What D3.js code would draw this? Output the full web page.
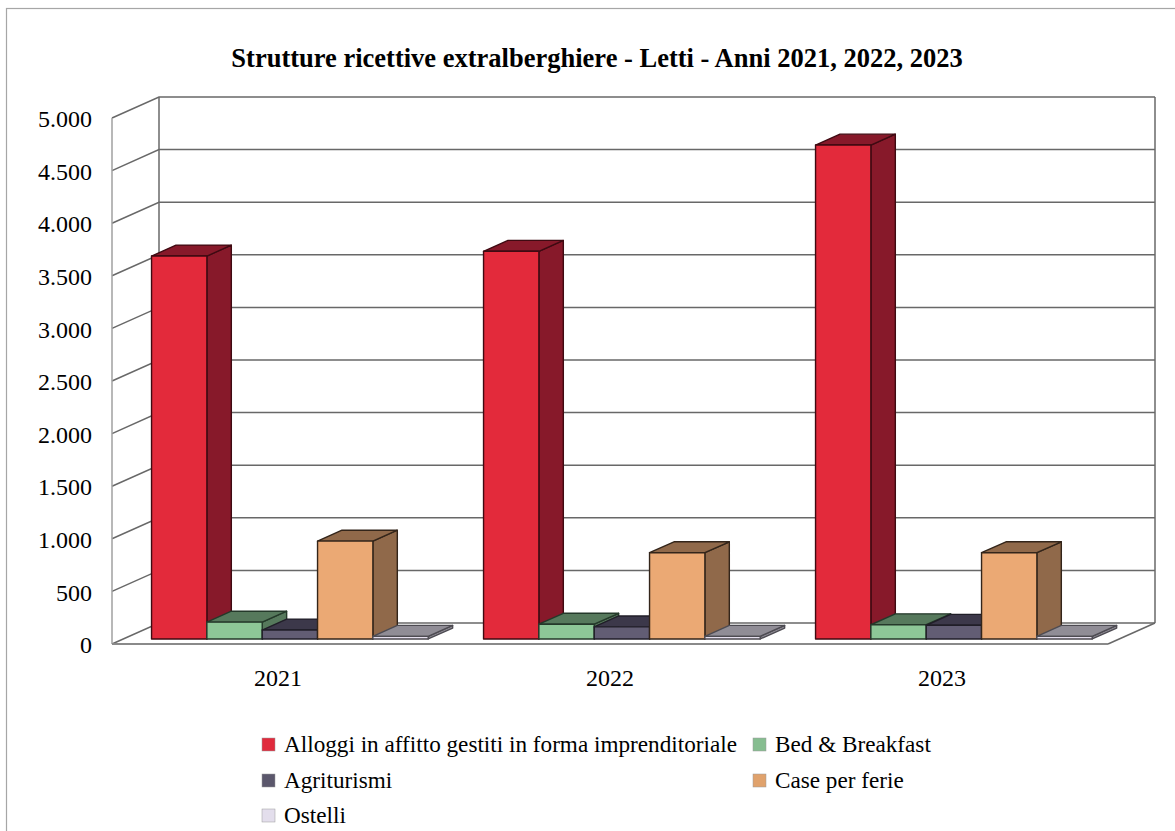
<!DOCTYPE html>
<html>
<head>
<meta charset="utf-8">
<script src="https://cdn.jsdelivr.net/npm/d3@7"></script>
<style>
body { margin: 0; background: #fff; }
text { font-family: "Liberation Serif", serif; fill: #000; }
</style>
</head>
<body>
<svg width="1175" height="831"></svg>
<script>
var years = ["2021", "2022", "2023"];
var series = ["Alloggi in affitto gestiti in forma imprenditoriale", "Bed & Breakfast", "Agriturismi", "Case per ferie", "Ostelli"];
var alloggi = [3640, 3685, 4695];
var bedBreakfast = [160, 140, 135];
var agriturismi = [85, 115, 130];
var casePerFerie = [930, 820, 820];
var ostelli = [25, 25, 25];
var values = [alloggi, bedBreakfast, agriturismi, casePerFerie, ostelli];
var yTicks = [0, 500, 1000, 1500, 2000, 2500, 3000, 3500, 4000, 4500, 5000];

var frontColors = ["#e32a3b", "#8dc797", "#625d74", "#eba974", "#e5dfee"];
var topColors = ["#87192a", "#56795c", "#3c384a", "#90694a", "#908d96"];
var sideColors = ["#87192a", "#56795c", "#3c384a", "#90694a", "#908d96"];
var edgeColors = ["#3f0a12", "#24392a", "#201e28", "#33251a", "#4d4b52"];
var legendColors = ["#e02a3c", "#86bd90", "#5b576c", "#e0a26c", "#e3deec"];

var svg = d3.select("svg");
var depthX = 47, depthY = 21;
var barFront = 0.24, barBack = 0.76;
var wallL = 112, wallR = 1108;

var x = d3.scaleBand().domain(years).range([wallL + 0.6, wallR + 0.6]);
var x1 = d3.scaleBand().domain(series).range([0, x.bandwidth()]).paddingInner(0).paddingOuter(0.5);
var y = d3.scaleLinear().domain([0, 5000]).range([644, 118]);
var locale = d3.formatLocale({decimal: ",", thousands: ".", grouping: [3], currency: ["", ""]});

// plane coordinates -> picture, d = depth from 0 (front) to 1 (back wall)
function pt(px, v, d) { return [px + d * depthX, y(v) - d * depthY]; }
function poly(points) { return d3.line()(points) + "Z"; }

svg.append("rect").attr("x", 6.5).attr("y", 8.5).attr("width", 1180).attr("height", 840)
    .attr("fill", "#fff").attr("stroke", "#a6a6a6").attr("stroke-width", 1.2);

svg.append("text").attr("x", 597).attr("y", 67).attr("text-anchor", "middle")
    .style("font-size", "26.5px").style("font-weight", "bold")
    .text("Strutture ricettive extralberghiere - Letti - Anni 2021, 2022, 2023");

// walls and grid
var grid = svg.append("g").attr("fill", "none").attr("stroke", "#686868").attr("stroke-width", 1.5);
yTicks.forEach(function(t) {
    grid.append("path").attr("d", d3.line()([pt(wallL, t, 0), pt(wallL, t, 1), pt(wallR, t, 1)]));
});
grid.append("path").attr("stroke", "#a0a0a0").attr("d", d3.line()([pt(wallL, 0, 0), pt(wallL, 5000, 0)]));
grid.append("path").attr("d", d3.line()([pt(wallL, 0, 1), pt(wallL, 5000, 1)]));
grid.append("path").attr("d", d3.line()([pt(wallR, 0, 1), pt(wallR, 5000, 1)]));
grid.append("path").attr("d", d3.line()([pt(wallR, 0, 0), pt(wallR, 0, 1)]));
grid.append("path").attr("stroke", "#8a8a8a").attr("stroke-width", 2).attr("d", d3.line()([pt(wallL, 0, 0), pt(wallR, 0, 0)]));

// bars, left to right so the next bar hides the side of the previous one
years.forEach(function(yr, i) {
    series.forEach(function(s, j) {
        var v = values[j][i];
        var x0 = x(yr) + x1(s), x2 = x0 + x1.bandwidth();
        var g = svg.append("g").attr("stroke", edgeColors[j]).attr("stroke-width", 1.4).attr("stroke-linejoin", "round");
        g.append("path").attr("fill", sideColors[j])
            .attr("d", poly([pt(x2, 0, barFront), pt(x2, 0, barBack), pt(x2, v, barBack), pt(x2, v, barFront)]));
        g.append("path").attr("fill", topColors[j])
            .attr("d", poly([pt(x0, v, barFront), pt(x2, v, barFront), pt(x2, v, barBack), pt(x0, v, barBack)]));
        g.append("path").attr("fill", frontColors[j])
            .attr("d", poly([pt(x0, 0, barFront), pt(x2, 0, barFront), pt(x2, v, barFront), pt(x0, v, barFront)]));
    });
});

// axes
var yAxis = d3.axisLeft(y).tickValues(yTicks).tickSize(0).tickPadding(20).tickFormat(locale.format(",d"));
var gy = svg.append("g").attr("transform", "translate(" + wallL + ",1)").call(yAxis);
gy.select(".domain").remove();
gy.selectAll("text").style("font-size", "24px").style("font-family", "'Liberation Serif', serif");

var xAxis = d3.axisBottom(d3.scaleBand().domain(years).range([wallL, wallR])).tickSize(0).tickPadding(25);
var gx = svg.append("g").attr("transform", "translate(0,644)").call(xAxis);
gx.select(".domain").remove();
gx.selectAll("text").style("font-size", "24px").style("font-family", "'Liberation Serif', serif");

// legend
var legendX = [262, 753, 262, 753, 262];
var legendY = [745, 745, 781, 781, 816];
var legend = svg.selectAll(".leg").data(series).enter().append("g").attr("class", "leg")
    .attr("transform", function(d, i) { return "translate(" + legendX[i] + "," + legendY[i] + ")"; });
legend.append("rect").attr("x", 0).attr("y", -7).attr("width", 13).attr("height", 13)
    .attr("fill", function(d, i) { return legendColors[i]; })
    .attr("stroke", "#9a9a9a").attr("stroke-width", 0.5);
legend.append("text").attr("x", 22).attr("y", 7).style("font-size", "23.2px").text(function(d) { return d; });
</script>
</body>
</html>
